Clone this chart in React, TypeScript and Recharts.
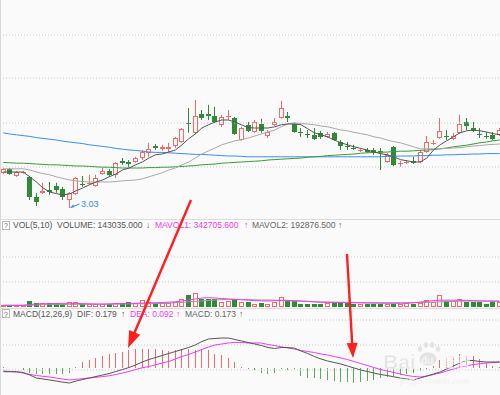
import React from 'react';
import { ComposedChart, Bar, Line, XAxis, YAxis, ReferenceLine } from 'recharts';

// daily candles, left to right
const opens = [
  3.118, 3.128, 3.110, 3.119, 3.108, 3.058, 3.068, 3.075, 3.085, 3.078,
  3.050, 3.065, 3.090, 3.090, 3.085, 3.115, 3.123, 3.113, 3.148, 3.144,
  3.145, 3.155, 3.168, 3.184, 3.178, 3.178, 3.185, 3.195, 3.243, 3.218,
  3.265, 3.264, 3.260, 3.238, 3.259, 3.255, 3.200, 3.238, 3.220, 3.240,
  3.210, 3.238, 3.255, 3.259, 3.240, 3.221, 3.216, 3.213, 3.218, 3.208,
  3.218, 3.195, 3.186, 3.181, 3.173, 3.175, 3.174, 3.173, 3.145, 3.183,
  3.141, 3.144, 3.148, 3.145, 3.170, 3.191, 3.205, 3.211, 3.203, 3.218,
  3.245, 3.230, 3.216, 3.211, 3.213, 3.213,
];
const closes = [
  3.128, 3.115, 3.120, 3.120, 3.058, 3.045, 3.073, 3.070, 3.075, 3.058,
  3.068, 3.105, 3.088, 3.093, 3.105, 3.123, 3.113, 3.143, 3.143, 3.141,
  3.155, 3.170, 3.178, 3.181, 3.183, 3.183, 3.205, 3.228, 3.239, 3.260,
  3.255, 3.261, 3.245, 3.258, 3.260, 3.215, 3.230, 3.223, 3.245, 3.223,
  3.220, 3.245, 3.280, 3.256, 3.220, 3.219, 3.214, 3.203, 3.208, 3.215,
  3.200, 3.185, 3.184, 3.179, 3.174, 3.170, 3.171, 3.170, 3.163, 3.138,
  3.143, 3.145, 3.143, 3.170, 3.195, 3.193, 3.223, 3.209, 3.210, 3.240,
  3.235, 3.223, 3.214, 3.209, 3.203, 3.225,
];
const highs = [
  3.130, 3.130, 3.123, 3.123, 3.110, 3.068, 3.093, 3.095, 3.093, 3.083,
  3.070, 3.108, 3.110, 3.113, 3.113, 3.130, 3.128, 3.145, 3.155, 3.150,
  3.158, 3.175, 3.193, 3.190, 3.188, 3.193, 3.208, 3.230, 3.280, 3.300,
  3.275, 3.288, 3.283, 3.263, 3.275, 3.258, 3.233, 3.245, 3.250, 3.253,
  3.225, 3.255, 3.298, 3.270, 3.243, 3.230, 3.225, 3.230, 3.223, 3.220,
  3.220, 3.200, 3.195, 3.188, 3.180, 3.180, 3.180, 3.180, 3.168, 3.185,
  3.148, 3.150, 3.158, 3.175, 3.210, 3.200, 3.255, 3.225, 3.218, 3.263,
  3.255, 3.245, 3.230, 3.220, 3.220, 3.230,
];
const lows = [
  3.115, 3.113, 3.108, 3.116, 3.050, 3.035, 3.065, 3.063, 3.068, 3.050,
  3.030, 3.063, 3.083, 3.088, 3.083, 3.113, 3.108, 3.105, 3.138, 3.133,
  3.143, 3.150, 3.158, 3.175, 3.173, 3.170, 3.180, 3.193, 3.218, 3.215,
  3.250, 3.250, 3.243, 3.233, 3.250, 3.213, 3.198, 3.220, 3.218, 3.218,
  3.205, 3.235, 3.253, 3.245, 3.218, 3.208, 3.205, 3.200, 3.203, 3.205,
  3.198, 3.175, 3.175, 3.175, 3.170, 3.168, 3.163, 3.125, 3.143, 3.135,
  3.133, 3.140, 3.140, 3.143, 3.168, 3.188, 3.203, 3.200, 3.200, 3.215,
  3.225, 3.220, 3.205, 3.203, 3.200, 3.210,
];

// moving averages on the price panel
const ma5 = [
  3.120, 3.120, 3.120, 3.120, 3.108, 3.095, 3.080, 3.070, 3.066, 3.063,
  3.065, 3.073, 3.080, 3.088, 3.095, 3.100, 3.108, 3.115, 3.125, 3.130,
  3.138, 3.145, 3.155, 3.163, 3.165, 3.170, 3.175, 3.188, 3.203, 3.215,
  3.230, 3.238, 3.245, 3.250, 3.250, 3.245, 3.238, 3.231, 3.230, 3.230,
  3.230, 3.233, 3.238, 3.240, 3.240, 3.238, 3.228, 3.218, 3.213, 3.208,
  3.200, 3.193, 3.188, 3.183, 3.179, 3.175, 3.170, 3.166, 3.163, 3.158,
  3.151, 3.148, 3.145, 3.145, 3.155, 3.175, 3.188, 3.198, 3.208, 3.218,
  3.223, 3.225, 3.223, 3.220, 3.216, 3.213,
];
const ma10 = [
  3.128, 3.128, 3.128, 3.128, 3.125, 3.120, 3.116, 3.113, 3.108, 3.104,
  3.100, 3.098, 3.096, 3.095, 3.095, 3.095, 3.095, 3.096, 3.098, 3.099,
  3.100, 3.103, 3.108, 3.113, 3.118, 3.125, 3.130, 3.138, 3.145, 3.155,
  3.165, 3.173, 3.180, 3.188, 3.193, 3.198, 3.201, 3.205, 3.210, 3.215,
  3.220, 3.225, 3.233, 3.240, 3.243, 3.241, 3.240, 3.238, 3.235, 3.233,
  3.229, 3.225, 3.223, 3.219, 3.216, 3.213, 3.208, 3.205, 3.200, 3.196,
  3.193, 3.188, 3.183, 3.178, 3.178, 3.178, 3.178, 3.179, 3.180, 3.181,
  3.183, 3.185, 3.186, 3.188, 3.189, 3.190,
];
const ma30 = [
  3.144, 3.143, 3.142, 3.142, 3.141, 3.140, 3.139, 3.138, 3.138, 3.137,
  3.136, 3.135, 3.135, 3.134, 3.133, 3.132, 3.132, 3.131, 3.130, 3.130,
  3.130, 3.130, 3.131, 3.131, 3.132, 3.132, 3.133, 3.134, 3.135, 3.136,
  3.138, 3.139, 3.140, 3.142, 3.143, 3.144, 3.145, 3.146, 3.147, 3.148,
  3.150, 3.151, 3.152, 3.153, 3.154, 3.155, 3.157, 3.158, 3.159, 3.161,
  3.162, 3.163, 3.164, 3.165, 3.167, 3.168, 3.169, 3.169, 3.170, 3.171,
  3.172, 3.172, 3.173, 3.174, 3.175, 3.176, 3.178, 3.180, 3.183, 3.185,
  3.187, 3.190, 3.193, 3.195, 3.198, 3.200,
];
const ma60 = [
  3.218, 3.215, 3.213, 3.211, 3.209, 3.206, 3.204, 3.202, 3.200, 3.197,
  3.195, 3.193, 3.191, 3.188, 3.186, 3.184, 3.182, 3.179, 3.177, 3.175,
  3.174, 3.172, 3.170, 3.169, 3.169, 3.168, 3.167, 3.166, 3.165, 3.164,
  3.164, 3.163, 3.162, 3.161, 3.160, 3.160, 3.159, 3.158, 3.158, 3.158,
  3.158, 3.158, 3.158, 3.158, 3.158, 3.158, 3.158, 3.158, 3.158, 3.158,
  3.158, 3.158, 3.158, 3.158, 3.158, 3.158, 3.158, 3.158, 3.159, 3.159,
  3.160, 3.160, 3.160, 3.161, 3.161, 3.162, 3.162, 3.163, 3.163, 3.164,
  3.164, 3.165, 3.165, 3.166, 3.166, 3.166,
];

// volume panel
const volumes = [
  60000, 60000, 60000, 60000, 170000, 130000, 130000, 110000, 110000, 80000,
  160000, 160000, 80000, 80000, 80000, 80000, 80000, 110000, 110000, 140000,
  110000, 200000, 160000, 110000, 110000, 110000, 160000, 250000, 350000, 410000,
  230000, 230000, 250000, 160000, 180000, 230000, 160000, 160000, 100000, 120000,
  100000, 140000, 290000, 200000, 170000, 100000, 100000, 100000, 100000, 130000,
  130000, 150000, 110000, 80000, 80000, 80000, 80000, 80000, 80000, 80000,
  80000, 110000, 80000, 110000, 200000, 150000, 350000, 180000, 180000, 250000,
  150000, 150000, 150000, 100000, 150000, 150000,
];
const mavol1 = [
  51000, 51000, 51000, 51000, 75000, 90000, 96000, 102000, 105000, 108000,
  111000, 108000, 102000, 96000, 90000, 90000, 93000, 99000, 105000, 111000,
  111000, 117000, 123000, 129000, 135000, 144000, 156000, 180000, 210000, 240000,
  270000, 279000, 270000, 255000, 240000, 228000, 216000, 204000, 192000, 183000,
  180000, 189000, 201000, 198000, 189000, 180000, 168000, 153000, 144000, 138000,
  135000, 132000, 129000, 126000, 123000, 120000, 117000, 114000, 111000, 111000,
  111000, 117000, 126000, 150000, 168000, 195000, 204000, 204000, 204000, 201000,
  201000, 192000, 183000, 177000, 174000, 171000,
];
const mavol2 = [
  51000, 51000, 51000, 51000, 57000, 63000, 69000, 72000, 75000, 78000,
  78000, 81000, 81000, 81000, 81000, 81000, 84000, 87000, 90000, 93000,
  96000, 99000, 102000, 105000, 108000, 114000, 126000, 141000, 156000, 168000,
  180000, 195000, 210000, 222000, 231000, 231000, 228000, 222000, 216000, 210000,
  210000, 204000, 198000, 189000, 180000, 174000, 168000, 159000, 153000, 150000,
  147000, 144000, 141000, 138000, 135000, 132000, 132000, 129000, 129000, 129000,
  129000, 129000, 129000, 132000, 138000, 147000, 156000, 165000, 171000, 174000,
  177000, 180000, 180000, 180000, 180000, 180000,
];

// MACD panel
const dif = [
  -0.037, -0.037, -0.037, -0.045, -0.07, -0.10, -0.11, -0.12, -0.13, -0.142,
  -0.15, -0.13, -0.115, -0.10, -0.085, -0.07, -0.055, -0.035, -0.015, 0.005,
  0.03, 0.06, 0.085, 0.105, 0.125, 0.145, 0.165, 0.185, 0.205, 0.23,
  0.265, 0.29, 0.295, 0.30, 0.30, 0.285, 0.27, 0.255, 0.24, 0.225,
  0.205, 0.195, 0.205, 0.205, 0.198, 0.17, 0.145, 0.115, 0.09, 0.07,
  0.055, 0.04, 0.02, 0.0, -0.02, -0.035, -0.05, -0.065, -0.075, -0.088,
  -0.10, -0.11, -0.12, -0.10, -0.08, -0.06, -0.04, -0.01, 0.02, 0.05,
  0.075, 0.075, 0.065, 0.06, 0.06, 0.06,
];
const dea = [
  -0.03, -0.035, -0.04, -0.05, -0.065, -0.075, -0.083, -0.09, -0.10, -0.11,
  -0.12, -0.113, -0.106, -0.10, -0.093, -0.086, -0.078, -0.065, -0.05, -0.035,
  -0.015, 0.002, 0.015, 0.032, 0.05, 0.065, 0.09, 0.115, 0.135, 0.16,
  0.185, 0.21, 0.23, 0.24, 0.25, 0.257, 0.255, 0.25, 0.25, 0.25,
  0.235, 0.225, 0.212, 0.20, 0.19, 0.175, 0.165, 0.155, 0.14, 0.13,
  0.115, 0.10, 0.085, 0.065, 0.045, 0.025, 0.005, -0.015, -0.03, -0.045,
  -0.06, -0.075, -0.085, -0.09, -0.08, -0.065, -0.05, -0.03, -0.01, 0.007,
  0.02, 0.035, 0.042, 0.05, 0.055, 0.06,
];
const macdHist = [
  0.01, 0, 0, -0.02, -0.05, -0.06, -0.06, -0.06, -0.06, -0.06,
  -0.05, 0.01, 0.06, 0.08, 0.10, 0.12, 0.14, 0.15, 0.16, 0.18,
  0.19, 0.19, 0.19, 0.19, 0.18, 0.17, 0.18, 0.19, 0.19, 0.18,
  0.19, 0.18, 0.14, 0.13, 0.10, 0.06, 0.01, -0.01, -0.02, -0.05,
  -0.06, -0.05, -0.01, -0.02, -0.01, -0.08, -0.10, -0.10, -0.11, -0.12,
  -0.13, -0.14, -0.14, -0.15, -0.14, -0.13, -0.12, -0.10, -0.09, -0.08,
  -0.07, -0.06, -0.05, -0.03, -0.01, 0.02, 0.08, 0.10, 0.12, 0.14,
  0.12, 0.12, 0.09, 0.05, 0.02, 0.01,
];

// dotted grid levels (no tick labels shown)
const priceGrid = [3.4625, 3.355, 3.2425, 3.1325];
const volGrid = [1500000, 750000];
const macdGrid = [0.48, 0.23, -0.02];

const W = 503;
const UP = '#f06a6a';
const DOWN = '#2f8c36';
const BG = '#fafafa';
const GRID = '#c8c8c8';
const MAGENTA = '#f03cf0';
const FONT = '"Liberation Sans", Arial, sans-serif';

const rows = opens.map((open, i) => ({
  i,
  open,
  close: closes[i],
  high: highs[i],
  low: lows[i],
  range: [lows[i], highs[i]],
  ma5: ma5[i],
  ma10: ma10[i],
  ma30: ma30[i],
  ma60: ma60[i],
  vol: volumes[i],
  mavol1: mavol1[i],
  mavol2: mavol2[i],
  dif: dif[i],
  dea: dea[i],
  hist: macdHist[i],
  up: closes[i] >= opens[i],
}));

const minLow = Math.min(...lows);

function Candle(props: any) {
  const { x, y, width, height, payload } = props;
  if (!payload || !height) return null;
  const { open, close, high, low, up } = payload;
  const k = height / (high - low);
  const cx = Math.floor(x + width / 2) + 0.5;
  const py = (v: number) => y + (high - v) * k;
  const top = Math.round(py(Math.max(open, close)));
  const bot = Math.max(Math.round(py(Math.min(open, close))), top + 1);
  const lowY = y + height;
  const color = up ? UP : DOWN;
  return (
    <g>
      {up ? (
        <>
          <line x1={cx} x2={cx} y1={y} y2={top} stroke={color} />
          <line x1={cx} x2={cx} y1={bot} y2={lowY} stroke={color} />
          {bot - top <= 1 ? (
            <line x1={cx - 2.5} x2={cx + 2.5} y1={top + 0.5} y2={top + 0.5} stroke={color} />
          ) : (
            <rect x={cx - 2} y={top + 0.5} width={4} height={bot - top - 1} fill={BG} stroke={color} />
          )}
        </>
      ) : (
        <>
          <line x1={cx} x2={cx} y1={y} y2={lowY} stroke={color} />
          <rect x={cx - 2.5} y={top} width={5} height={bot - top} fill={color} />
        </>
      )}
      {low === minLow && (
        <g>
          <line x1={cx + 1} y1={lowY - 0.5} x2={cx + 10} y2={lowY - 4} stroke="#3b8fd6" />
          <path d={`M${cx + 1},${lowY - 0.5} l4,-0.2 l-1.4,-2.8 z`} fill="#3b8fd6" />
          <text x={cx + 11.5} y={lowY - 1.3} fontSize={9} fill="#3b8fd6" fontFamily={FONT}>
            {minLow.toFixed(2)}
          </text>
        </g>
      )}
    </g>
  );
}

function VolBar(props: any) {
  const { x, y, width, height, payload } = props;
  if (!payload || !height) return null;
  const cx = Math.floor(x + width / 2) + 0.5;
  const top = Math.round(y);
  const bot = Math.round(y + height);
  if (payload.up) {
    return <rect x={cx - 2} y={top + 0.5} width={4} height={Math.max(bot - top - 1, 0)} fill={BG} stroke={UP} />;
  }
  return <rect x={cx - 2.5} y={top} width={5} height={bot - top} fill={DOWN} />;
}

function HistBar(props: any) {
  const { x, y, width, height, payload } = props;
  if (!payload || !height) return null;
  const cx = Math.floor(x + width / 2) + 0.5;
  const c = payload.hist >= 0 ? '#ee6b6b' : '#5fa85f';
  return <line x1={cx} x2={cx} y1={y} y2={y + height} stroke={c} />;
}

function RedArrow({ from, to, head, half }: { from: number[]; to: number[]; head: number; half: number }) {
  const dx = to[0] - from[0];
  const dy = to[1] - from[1];
  const len = Math.hypot(dx, dy);
  const ux = dx / len;
  const uy = dy / len;
  const bx = to[0] - ux * head;
  const by = to[1] - uy * head;
  const nx = -uy;
  const ny = ux;
  return (
    <g>
      <line x1={from[0]} y1={from[1]} x2={bx + ux} y2={by + uy} stroke="#ff1f1f" strokeWidth={2.4} />
      <polygon
        points={`${to[0]},${to[1]} ${bx + nx * half},${by + ny * half} ${bx - nx * half},${by - ny * half}`}
        fill="#ff1f1f"
      />
    </g>
  );
}

const margin = { top: 0, right: 0, bottom: 0, left: 0 };
const dotted = (v: number) => <ReferenceLine key={v} y={v} stroke={GRID} strokeDasharray="1 2" />;
const lineProps = { strokeWidth: 1, dot: false, activeDot: false, isAnimationActive: false } as const;

export default function App() {
  return (
    <div style={{ position: 'absolute', left: 0, top: 0, width: 500, height: 395, overflow: 'hidden', background: BG }}>
      <div style={{ position: 'absolute', left: 0, top: 0 }}>
        <ComposedChart width={W} height={218} data={rows} margin={margin}>
          <XAxis dataKey="i" hide />
          <YAxis hide domain={[3.005, 3.55]} allowDataOverflow />
          {priceGrid.map(dotted)}
          <Bar dataKey="range" shape={<Candle />} isAnimationActive={false} />
          <Line dataKey="ma60" stroke="#3d8fe0" {...lineProps} />
          <Line dataKey="ma30" stroke="#3a9a3a" {...lineProps} />
          <Line dataKey="ma10" stroke="#a8a8a8" {...lineProps} />
          <Line dataKey="ma5" stroke="#555555" {...lineProps} />
        </ComposedChart>
      </div>
      <div style={{ position: 'absolute', left: 0, top: 233 }}>
        <ComposedChart width={W} height={74} data={rows} margin={margin}>
          <XAxis dataKey="i" hide />
          <YAxis hide domain={[0, 2220000]} allowDataOverflow />
          {volGrid.map(dotted)}
          <Bar dataKey="vol" shape={<VolBar />} isAnimationActive={false} />
          <Line dataKey="mavol2" stroke="#9a9a9a" {...lineProps} />
          <Line dataKey="mavol1" stroke={MAGENTA} {...lineProps} />
        </ComposedChart>
      </div>
      <div style={{ position: 'absolute', left: 0, top: 318 }}>
        <ComposedChart width={W} height={82} data={rows} margin={margin}>
          <XAxis dataKey="i" hide />
          <YAxis hide domain={[-0.32, 0.5]} allowDataOverflow />
          {macdGrid.map(dotted)}
          <Bar dataKey="hist" shape={<HistBar />} isAnimationActive={false} />
          <Line dataKey="dea" stroke={MAGENTA} {...lineProps} />
          <Line dataKey="dif" stroke="#555555" {...lineProps} />
        </ComposedChart>
      </div>
      <svg
        width={500}
        height={395}
        style={{ position: 'absolute', left: 0, top: 0, pointerEvents: 'none' }}
        fontFamily={FONT}
      >
        <line x1={0.5} x2={0.5} y1={0} y2={395} stroke="#d8d8d8" />
        <line x1={0} x2={500} y1={219.5} y2={219.5} stroke="#dcdcdc" />
        <line x1={0} x2={500} y1={308.5} y2={308.5} stroke="#dcdcdc" />
        <rect x={1} y={309} width={248} height={12} fill={BG} />

        <g fontSize={8.5}>
          <rect x={2.5} y={221.5} width={7} height={8} fill="#fff" stroke="#b8b8b8" />
          <text x={6} y={228.3} fontSize={7} textAnchor="middle" fill="#666">?</text>
          <text x={13} y={228.3} fill="#555">VOL(5,10)</text>
          <text x={57} y={228.3} fill="#555">VOLUME: 143035.000</text>
          <text x={146} y={228.3} fill="#555">↓</text>
          <text x={155} y={228.3} fill={MAGENTA}>MAVOL1: 342705.600</text>
          <text x={244} y={228.3} fill={MAGENTA}>↑</text>
          <text x={252} y={228.3} fill="#666">MAVOL2: 192876.500</text>
          <text x={338} y={228.3} fill="#666">↑</text>

          <rect x={2.5} y={309.5} width={7} height={8} fill="#fff" stroke="#b8b8b8" />
          <text x={6} y={316.5} fontSize={7} textAnchor="middle" fill="#666">?</text>
          <text x={13} y={316.5} fill="#555">MACD(12,26,9)</text>
          <text x={77} y={316.5} fill="#555">DIF: 0.179</text>
          <text x={121} y={316.5} fill="#555">↑</text>
          <text x={130} y={316.5} fill={MAGENTA}>DEA: 0.092</text>
          <text x={176} y={316.5} fill={MAGENTA}>↑</text>
          <text x={185} y={316.5} fill="#666">MACD: 0.173</text>
          <text x={239} y={316.5} fill="#666">↑</text>
        </g>

        <g opacity={0.8} fill="#dedede" stroke="#ffffff" strokeWidth={0.6}>
          <text x={383} y={369} fontSize={21} fontWeight="bold">Bai</text>
          <ellipse cx={428} cy={359} rx={9} ry={7} />
          <ellipse cx={420} cy={349} rx={2.5} ry={3.2} />
          <ellipse cx={426} cy={345} rx={2.5} ry={3.2} />
          <ellipse cx={432} cy={345} rx={2.5} ry={3.2} />
          <ellipse cx={438} cy={349} rx={2.5} ry={3.2} />
          <text x={442} y={367} fontSize={14} fontFamily='"Noto Sans CJK SC", sans-serif'>经验</text>
          <text x={400} y={384} fontSize={8.5} strokeWidth={0.3}>jingyan.baidu.com</text>
        </g>
        <text x={421} y={364} fontSize={10} fill="#f4f4f4" fontWeight="bold">du</text>

        <RedArrow from={[191, 200]} to={[128, 348]} head={17} half={6} />
        <RedArrow from={[347, 254]} to={[353, 358]} head={15} half={5.5} />
      </svg>
    </div>
  );
}
